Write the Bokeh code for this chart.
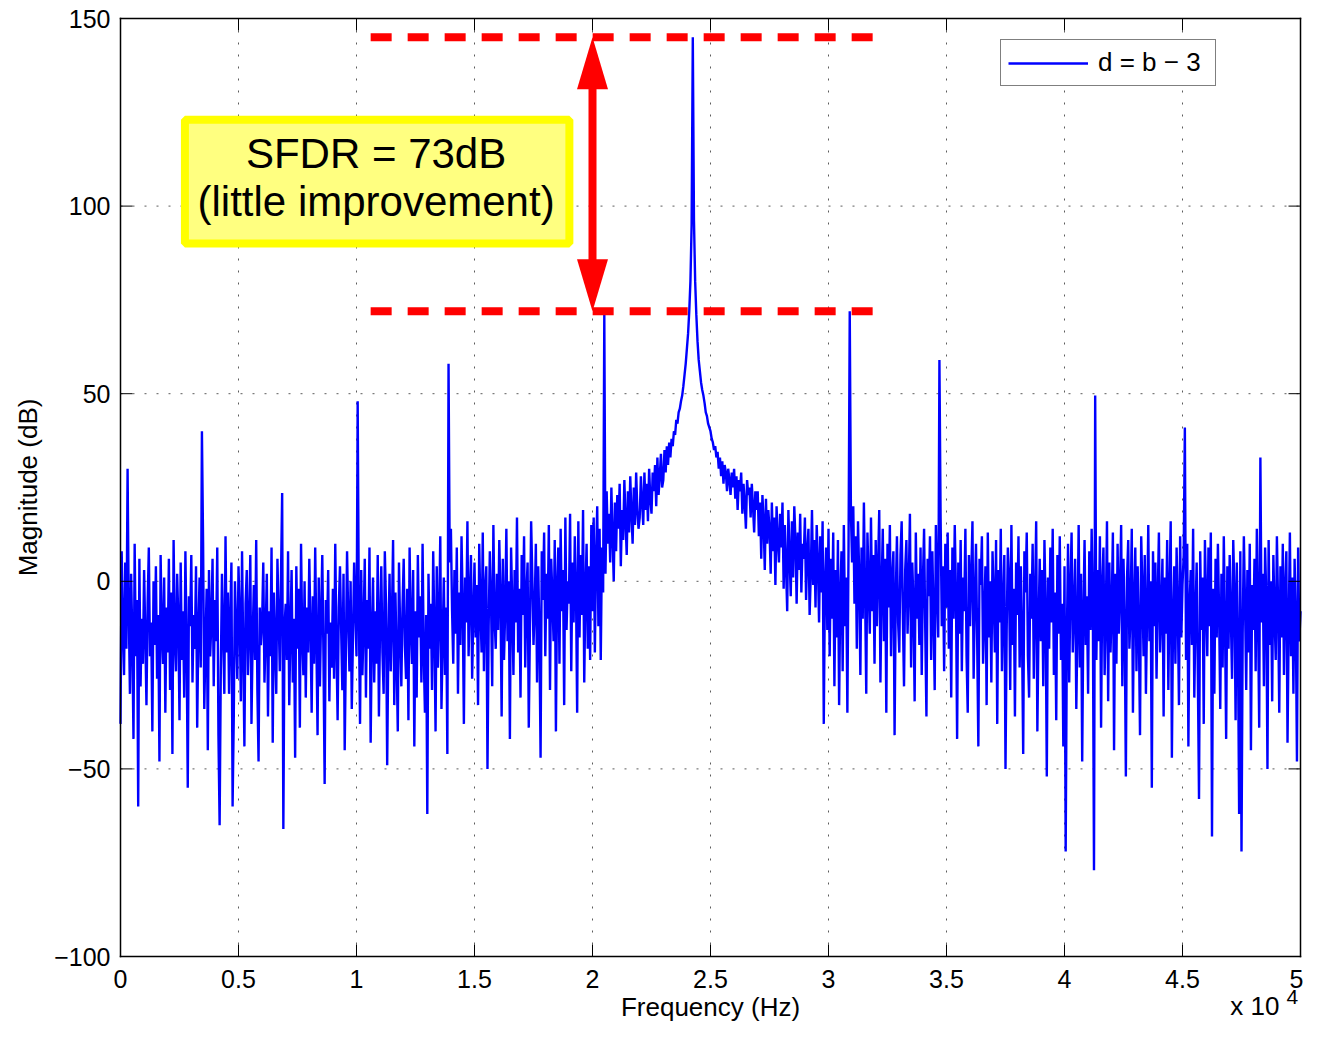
import numpy as np
from bokeh.plotting import figure
from bokeh.models import Range1d, FixedTicker, Label, BoxAnnotation
from bokeh.embed import file_html
from bokeh.resources import INLINE

# ---------------- data ----------------
bin_step_hz = 50
magnitude_db = [
    -38, 8, -12, -25, 5, -18, 30, -8, -30, 2, -15, -42, 10, -20, -5, -60, 6, -28, -10, -22,
    3, -14, -33, -6, 9, -20, -11, -40, 0, -17, 4, -26, -9, -48, 7, -13, -22, 1, -35, -7,
    -19, 6, -29, -3, -46, 11, -15, -24, 2, -10, -37, 5, -21, -8, -31, 8, -16, -55, -4, -12,
    7, -27, -9, -18, 4, -39, -13, 1, -23, 40, 10, -34, -17, -2, -45, 3, -20, -11, 6, -28,
    -5, -16, 9, -41, -65, -24, 2, -14, -30, 12, -19, -3, -30, -10, 5, -60, -36, 0, -13, -26,
    4, -9, -32, 8, -18, -44, -6, 3, -25, -12, 7, -38, -15, -1, -21, 11, -29, -48, -7, -17,
    -11, 5, -27, -14, 2, -36, -8, -20, 9, -43, -3, -16, -30, 6, -9, -24, 1, 23.5, -66, -12,
    -6, -21, 8, -33, -13, 3, -27, -10, -47, 4, -18, -2, -39, 10, -15, -25, 0, -31, -7, -19,
    6, -12, -35, -4, -22, 9, -16, -41, 1, -28, -9, 7, -20, -54, -5, -14, 3, -32, -11, -23,
    -2, -26, 10, -17, -37, -7, 4, -13, -29, 2, -45, -19, 8, -10, -24, 0, -34, -15, 5, -8,
    -20, 48, -9, -38, 3, -25, -12, 6, -31, -5, -18, 9, -43, -14, 1, -27, -8, -22, 7, -36,
    -11, 4, -19, -30, 8, -6, -49, -16, 2, -24, -10, 11, -33, -3, -21, -40, 5, -13, -28, -7,
    6, -17, -26, -2, -37, 9, -12, -22, 3, -44, -8, -31, 7, -15, -4, -27, 10, -20, -35, -9,
    -62, 2, -18, -6, -29, 8, -13, -40, 4, -23, -10, 12, -34, -16, 1, -25, -7, -46, 58, 5,
    14, -8, -22, 3, -14, 9, -30, -3, -17, 12, -6, -38, 1, -11, 16, -20, -4, 7, -26, -9,
    5, -15, -1, -33, 10, -7, -19, 13, -24, -2, 4, -50, -12, 8, -5, -28, 15, -10, -18, 2,
    -13, 11, -4, -36, 6, -21, -8, 14, -16, 0, -42, 9, -6, -25, 3, -11, 17, -19, -2, -31,
    7, -9, 12, -23, -3, 5, -39, -12, 16, 1, -17, -7, 10, -27, 4, -14, -47, 8, -5, 13,
    -20, 2, -10, 15, -29, 6, -4, -16, 11, -40, -1, 9, -22, 14, -8, 3, -33, 17, -13, 0,
    -6, 18, -24, 5, -11, 12, -2, -35, 16, -15, 7, -9, 19, -27, -3, 10, -18, 4, -21, 15,
    -8, 17, -19, 6, 20, -12, 14, -21, 9, -3, 71, 2, 24, 10, 18, 5, 25, 12, 0, 21,
    8, 23, 14, 26, 4, 19, 11, 27, 16, 7, 24, 13, 28, 18, 10, 25, 15, 29, 19, 14,
    17, 28, 21, 15, 29, 19, 26, 16, 30, 22, 18, 29, 24, 31, 20, 33, 23, 28, 34, 25,
    27, 35, 29, 36, 31, 37, 33, 38, 36, 40, 39, 43, 42, 45, 46, 48, 49.5, 52, 55, 58,
    62, 66, 72, 80, 95, 145, 96, 80, 71, 64, 59, 56, 53, 51, 49.5, 47.5, 45, 44, 42, 41,
    40, 38, 37, 35, 36, 33, 34.5, 30, 33, 28, 32, 26, 31, 29, 24, 30, 27, 23, 29, 25,
    30, 22, 28, 19, 27, 24, 29, 18, 26, 21, 14, 27, 23, 25, 17, 26, 20, 13, 24, 19,
    24, 12, 21, 6, 23, 16, 3, 22, 10, 19, 14, 2, 21, 8, 17, -1, 20, 11, 5, 18,
    9, 21, -2, 15, 4, -8, 19, 7, -4, 16, 1, 20, 11, -6, 13, 3, 18, -3, 10, 6,
    17, -5, 8, 14, -9, 2, 19, -1, 11, -7, 15, 5, -11, 12, -3, 16, -38, 0, 9, -13,
    14, -20, 6, -10, 13, -28, 3, -15, 11, -33, -4, 8, -24, 15, -12, 1, -35, 10, 72, 18,
    5, 20, -6, 12, -18, 16, 2, -25, 9, -10, 21, -3, -30, 13, 0, -14, 17, -8, 7, -22,
    11, -12, 4, 19, -27, -2, 14, -16, 6, -35, 10, -7, 15, -20, 1, 8, -41, -4, 12, -11,
    -19, 7, 16, -9, -28, 3, 11, -14, -1, 18, -23, 5, -6, -32, 13, -10, 2, -17, 9, -25,
    0, 14, -13, -36, 6, -4, 12, -21, 8, -9, -29, 15, -2, -15, 59, 17, -12, 4, -24, 10,
    -7, 13, -18, 3, -31, 9, -10, 15, -3, -42, 5, -14, 11, -24, 1, -8, 14, -20, -35, 7,
    -12, 2, 16, -26, -5, 10, -16, -44, 6, -1, 12, -22, -9, 4, -33, 13, -15, 0, -27, 8,
    -4, -19, 11, -38, 3, -11, 14, -24, -6, 7, -50, -13, 9, 1, -29, 15, -17, -2, -36, 5,
    -9, 12, -23, 4, -14, -46, 8, -3, 13, -20, -31, 2, -10, 10, -26, -5, 16, -40, -12, 6,
    -16, 3, -28, 11, -7, -52, 1, -18, 9, -11, 14, -25, -3, -37, 7, -14, 12, -21, -6, -44,
    4, -72, -15, 10, -27, -2, 13, -19, -8, 6, -34, -12, 15, -23, 2, -48, -9, 11, -17, -4,
    -30, 8, -13, 14, -6, -77, 49.5, -21, 3, -16, 12, -39, -1, 9, -25, -10, 16, -32, 5, -19,
    -7, 13, -45, 2, -22, 10, -14, -3, 15, -28, 6, -11, -52, 1, 11, -18, -8, 14, -35, -5,
    9, -24, 4, -13, -41, 12, -2, -20, 7, -30, -9, 15, -16, 0, -55, 8, -12, 5, -26, -4,
    13, -19, -8, 6, -36, 1, -14, 11, -29, -3, 16, -47, -10, 4, -22, 9, -7, -33, 12, -15,
    -1, 7, 41, -21, 10, -44, -6, 3, -17, 14, -31, -9, 5, -25, -58, 8, -13, 1, -38, 11,
    -5, -20, 9, -12, 13, -68, -2, -30, 6, -15, 10, -8, -34, 2, -23, 12, -11, -42, 4, -18,
    7, -10, -26, 11, -3, -37, 5, -16, -62, 8, -72, -14, 12, -6, -29, 3, -19, 10, -45, -1,
    -13, 6, -24, 14, -8, -39, 33, -11, 2, -28, 9, -4, -50, 11, -17, 0, -32, 7, -9, -21,
    12, -6, -35, 4, -15, 10, -25, -2, 8, -43, -12, 13, -20, 1, -30, 6, -10, -48, 9, -16,
    -8,
]
freq_hz = np.arange(len(magnitude_db)) * bin_step_hz

x_ticks = [0, 5000, 10000, 15000, 20000, 25000, 30000, 35000, 40000, 45000, 50000]
x_tick_labels = ["0", "0.5", "1", "1.5", "2", "2.5", "3", "3.5", "4", "4.5", "5"]
y_ticks = [-100, -50, 0, 50, 100, 150]
y_tick_labels = ["\u2212100", "\u221250", "0", "50", "100", "150"]
x_min, x_max = 0, 50000
y_min, y_max = -100, 150

series_label = "d = b \u2212 3"
x_axis_title = "Frequency (Hz)"
y_axis_title = "Magnitude (dB)"
x_multiplier_base = "x 10"
x_multiplier_exp = "4"

# SFDR annotation values
sfdr_top_db = 145
sfdr_bottom_db = 72
sfdr_line_start_hz = 10600
sfdr_line_end_hz = 32450
arrow_x_hz = 20000
box_left_hz, box_right_hz = 2730, 19020
box_bottom_db, box_top_db = 90, 123
box_text_x_hz = 10830
box_line1 = "SFDR = 73dB"
box_line2 = "(little improvement)"

# ---------------- layout (pixels) ----------------
FONT = "Liberation Sans"
W, H = 1303, 1023
ML, MT = 112, 16                 # canvas -> frame offsets
box_left_px, box_right_px = 120, 1300
box_top_px, box_bottom_px = 18, 956
frame_w = W - ML
frame_h = H - MT
hz_per_px = (x_max - x_min) / (box_right_px - box_left_px)
db_per_px = (y_max - y_min) / (box_bottom_px - box_top_px)
x_lo = x_min - (box_left_px - ML) * hz_per_px
x_hi = x_max + (W - box_right_px) * hz_per_px
y_hi = y_max + (box_top_px - MT) * db_per_px
y_lo = y_min - (H - box_bottom_px) * db_per_px
tick_len_px = 12


def px_to_db(py):
    """vertical canvas pixel -> dB value"""
    return y_min + (box_bottom_px - py) * db_per_px


p = figure(width=W, height=H, x_range=Range1d(x_lo, x_hi), y_range=Range1d(y_lo, y_hi),
           output_backend="svg", toolbar_location=None, x_axis_location=None,
           min_border_left=ML, min_border_right=0, min_border_top=MT, min_border_bottom=0)
p.background_fill_color = "white"
p.border_fill_color = "white"
p.outline_line_color = None
p.grid.visible = False

# y axis: Bokeh axis supplies tick labels and the title
p.yaxis.ticker = FixedTicker(ticks=y_ticks)
p.yaxis.major_label_overrides = dict(zip(y_ticks, y_tick_labels))
# leading no-break spaces lift the rotated title to the middle of the -100..150 box
p.yaxis.axis_label = "\u00a0" * 9 + y_axis_title
yax = p.yaxis[0]
yax.axis_line_color = None
yax.major_tick_in = 0
yax.major_tick_out = 0
yax.minor_tick_in = 0
yax.minor_tick_out = 0
yax.major_label_text_font = FONT
yax.major_label_text_font_size = "25px"
yax.major_label_text_color = "black"
yax.major_label_standoff = box_left_px - ML - 6
yax.axis_label_text_font = FONT
yax.axis_label_text_font_size = "26px"
yax.axis_label_text_font_style = "normal"
yax.axis_label_text_color = "black"
yax.axis_label_standoff = 8

# dotted grid inside the box
grid_style = dict(line_color="#333333", line_alpha=0.8, line_width=1, line_dash="2 10")
p.segment(x0=x_ticks, y0=[y_min] * len(x_ticks), x1=x_ticks, y1=[y_max] * len(x_ticks), **grid_style)
p.segment(x0=[x_min] * len(y_ticks), y0=y_ticks, x1=[x_max] * len(y_ticks), y1=y_ticks, **grid_style)

# spectrum
p.line(freq_hz, magnitude_db, line_color="#0000FF", line_width=2.4, legend_label=series_label)

# axes box with inward ticks on all four sides
vt = tick_len_px * db_per_px
ht = tick_len_px * hz_per_px
n_x, n_y = len(x_ticks), len(y_ticks)
p.segment(x0=x_ticks, y0=[y_min] * n_x, x1=x_ticks, y1=[y_min + vt] * n_x, line_color="black", line_width=1)
p.segment(x0=x_ticks, y0=[y_max] * n_x, x1=x_ticks, y1=[y_max - vt] * n_x, line_color="black", line_width=1)
p.segment(x0=[x_min] * n_y, y0=y_ticks, x1=[x_min + ht] * n_y, y1=y_ticks, line_color="black", line_width=1)
p.segment(x0=[x_max] * n_y, y0=y_ticks, x1=[x_max - ht] * n_y, y1=y_ticks, line_color="black", line_width=1)
p.segment(x0=[x_min, x_min, x_max, x_min], y0=[y_min, y_max, y_min, y_min],
          x1=[x_min, x_max, x_max, x_max], y1=[y_max, y_max, y_max, y_min],
          line_color="black", line_width=1.5, line_cap="square")

# x tick labels, axis title and the x 10^4 multiplier
text_style = dict(text_baseline="alphabetic", text_font=FONT, text_color="black")
for i, (xt, lab) in enumerate(zip(x_ticks, x_tick_labels)):
    shift = -4 * hz_per_px if i == len(x_ticks) - 1 else 0
    p.add_layout(Label(x=xt + shift, y=px_to_db(978), text=lab, text_align="center",
                       text_font_size="25px", **text_style))
p.add_layout(Label(x=(x_min + x_max) / 2, y=px_to_db(1006), text=x_axis_title,
                   text_align="center", text_font_size="26px", **text_style))
p.add_layout(Label(x=x_max - 21 * hz_per_px, y=px_to_db(1005), text=x_multiplier_base,
                   text_align="right", text_font_size="26px", **text_style))
p.add_layout(Label(x=x_max - 14 * hz_per_px, y=px_to_db(996), text=x_multiplier_exp,
                   text_align="left", text_font_size="21px", **text_style))

# SFDR dashed lines
p.segment(x0=[sfdr_line_start_hz, sfdr_line_start_hz], y0=[sfdr_top_db, sfdr_bottom_db],
          x1=[sfdr_line_end_hz, sfdr_line_end_hz], y1=[sfdr_top_db, sfdr_bottom_db],
          line_color="#FF0000", line_width=8, line_dash="21 16", line_cap="butt")

# double-headed arrow
head_half_w = 15.5 * hz_per_px
head_len = 52 * db_per_px
p.segment(x0=[arrow_x_hz], y0=[sfdr_top_db - head_len + 1], x1=[arrow_x_hz],
          y1=[sfdr_bottom_db + head_len - 1], line_color="#FF0000", line_width=8)
p.patches(xs=[[arrow_x_hz - head_half_w, arrow_x_hz, arrow_x_hz + head_half_w],
              [arrow_x_hz - head_half_w, arrow_x_hz, arrow_x_hz + head_half_w]],
          ys=[[sfdr_top_db - head_len, sfdr_top_db, sfdr_top_db - head_len],
              [sfdr_bottom_db + head_len, sfdr_bottom_db, sfdr_bottom_db + head_len]],
          fill_color="#FF0000", line_color=None)

# yellow box with text
p.add_layout(BoxAnnotation(left=box_left_hz, right=box_right_hz, bottom=box_bottom_db, top=box_top_db,
                           fill_color="#FFFF80", fill_alpha=1, line_color="#FFFF00", line_alpha=1,
                           line_width=8, line_dash="solid"))
p.add_layout(Label(x=box_text_x_hz, y=px_to_db(153), text=box_line1, text_align="center",
                   text_font_size="42px", **text_style))
p.add_layout(Label(x=box_text_x_hz, y=px_to_db(201), text=box_line2, text_align="center",
                   text_font_size="42px", **text_style))

# legend (location = bottom-left corner, in px from the frame's bottom-left)
leg = p.legend[0]
leg.location = (888, frame_h - (86 - MT))
leg.border_line_color = "black"
leg.border_line_width = 1.5
leg.background_fill_color = "white"
leg.background_fill_alpha = 1
leg.label_text_font = FONT
leg.label_text_font_size = "26px"
leg.label_text_color = "black"
leg.glyph_width = 80
leg.glyph_height = 20
leg.label_standoff = 10
leg.padding = 7
leg.margin = 0
leg.spacing = 0
leg.label_width = 110

open("out.html", "w").write(file_html(p, INLINE))
